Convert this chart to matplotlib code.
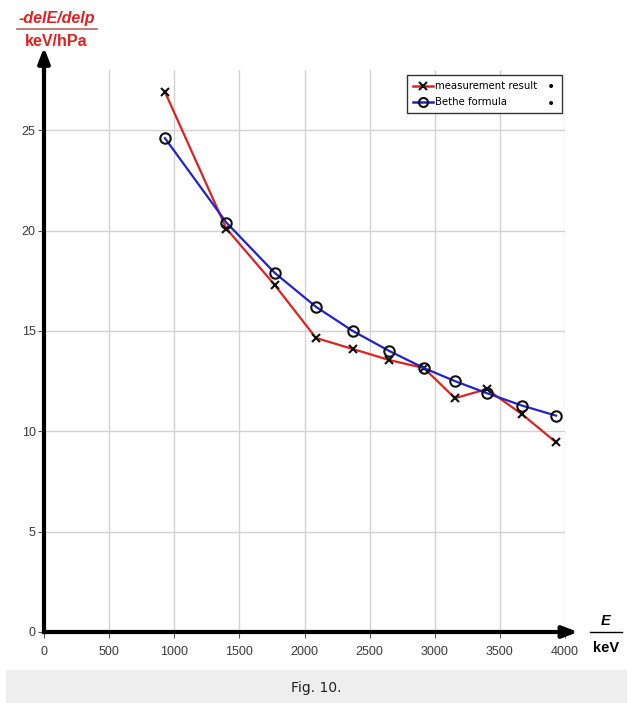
import matplotlib
matplotlib.use("Agg")
import matplotlib.pyplot as plt
from matplotlib.lines import Line2D
from matplotlib.patches import Rectangle

energy_keV = [929, 1400, 1770, 2088, 2370, 2651, 2917, 3155, 3399, 3670, 3931]
measurement = [26.9, 20.1, 17.3, 14.65, 14.1, 13.55, 13.15, 11.65, 12.1, 10.85, 9.45]
bethe = [24.6, 20.4, 17.9, 16.2, 15.0, 14.0, 13.15, 12.5, 11.9, 11.28, 10.78]
x_ticks = [0, 500, 1000, 1500, 2000, 2500, 3000, 3500, 4000]
y_ticks = [0, 5, 10, 15, 20, 25]
series_names = ["measurement result", "Bethe formula"]

W, H = 633, 703
fig = plt.figure(figsize=(W / 100, H / 100), dpi=100)
fig.patch.set_facecolor("white")

x0, x1 = 44, 565
y0, y1 = 632, 70
ax = fig.add_axes([x0 / W, (H - y0) / H, (x1 - x0) / W, (y0 - y1) / H])
ax.set_xlim(0, 4000)
ax.set_ylim(0, 28)

ax.set_xticks(x_ticks)
ax.set_yticks(y_ticks)
ax.grid(True, color="#d2d2d2", lw=1.0)
ax.set_axisbelow(True)
for s in ["top", "right"]:
    ax.spines[s].set_visible(False)
for s in ["left", "bottom"]:
    ax.spines[s].set_linewidth(3)
    ax.spines[s].set_color("black")
ax.tick_params(axis="both", direction="out", length=4, width=0.8, color="#555555",
               labelsize=9, labelcolor="#3a3a3a")
ax.tick_params(axis="x", pad=6)
ax.tick_params(axis="y", pad=2)
for lab in ax.get_xticklabels() + ax.get_yticklabels():
    lab.set_family("Liberation Sans")

ax.plot(energy_keV, measurement, color="#dd2222", lw=1.6, marker="x", ms=6,
        mec="#111111", mew=1.5, zorder=3)
ax.plot(energy_keV, bethe, color="#2222cc", lw=1.6, marker="o", ms=7.5,
        mfc="none", mec="#111111", mew=1.5, zorder=3)

# axis arrows
ax.annotate("", xy=(0, 1.045), xytext=(0, 0.99), xycoords="axes fraction",
            arrowprops=dict(arrowstyle="-|>,head_width=0.35,head_length=0.9",
                            color="black", lw=3), annotation_clip=False)
ax.annotate("", xy=(1.03, 0), xytext=(0.99, 0), xycoords="axes fraction",
            arrowprops=dict(arrowstyle="-|>,head_width=0.35,head_length=0.9",
                            color="black", lw=3), annotation_clip=False)

# legend
handles = [
    Line2D([], [], color="#dd2222", lw=1.8, marker="x", ms=6, mec="#111111", mew=1.5),
    Line2D([], [], color="#2222cc", lw=1.8, marker="o", ms=6.5, mfc="none", mec="#111111", mew=1.5),
]
leg = fig.legend(handles, series_names,
                 loc="upper left", bbox_to_anchor=(407 / W, 1 - 114 / H, 155 / W, 39 / H),
                 bbox_transform=fig.transFigure, mode="expand", fancybox=False,
                 framealpha=1, edgecolor="#333333", handlelength=2.0, handletextpad=0.2,
                 borderpad=0.6, labelspacing=0.6, borderaxespad=0,
                 prop={"family": "Liberation Sans Narrow", "size": 7.3})
leg.get_frame().set_linewidth(1.0)
for yy in (87, 104):
    fig.text(551 / W, 1 - yy / H, "\u2022", fontsize=10, ha="center", va="center",
             color="black", zorder=10)

red = "#dd2222"
fig.text(57 / W, 1 - 19 / H, "-delE/delp", color=red, fontsize=11.5, fontweight="bold",
         style="italic", ha="center", va="center", family="Liberation Sans")
fig.add_artist(Line2D([17 / W, 97 / W], [1 - 29 / H, 1 - 29 / H], color="#c06060", lw=1.2))
fig.text(56 / W, 1 - 42 / H, "keV/hPa", color=red, fontsize=11.5, fontweight="bold",
         ha="center", va="center", family="Liberation Sans")

fig.text(606 / W, 1 - 621 / H, "E", color="black", fontsize=10.5, fontweight="bold",
         style="italic", ha="center", va="center", family="Liberation Sans")
fig.add_artist(Line2D([590 / W, 622 / W], [1 - 632 / H, 1 - 632 / H], color="black", lw=1.0))
fig.text(606 / W, 1 - 648 / H, "keV", color="black", fontsize=10.5, fontweight="bold",
         ha="center", va="center", family="Liberation Sans")

# caption band
fig.add_artist(Rectangle((6 / W, 0), (627 - 6) / W, (703 - 670) / H, transform=fig.transFigure,
                         facecolor="#eeeeee", edgecolor="none"))
fig.text(316 / W, 1 - 688 / H, "Fig. 10.", fontsize=10, ha="center", va="center",
         family="DejaVu Sans", color="#222222")

fig.savefig("out.png", dpi=100)
